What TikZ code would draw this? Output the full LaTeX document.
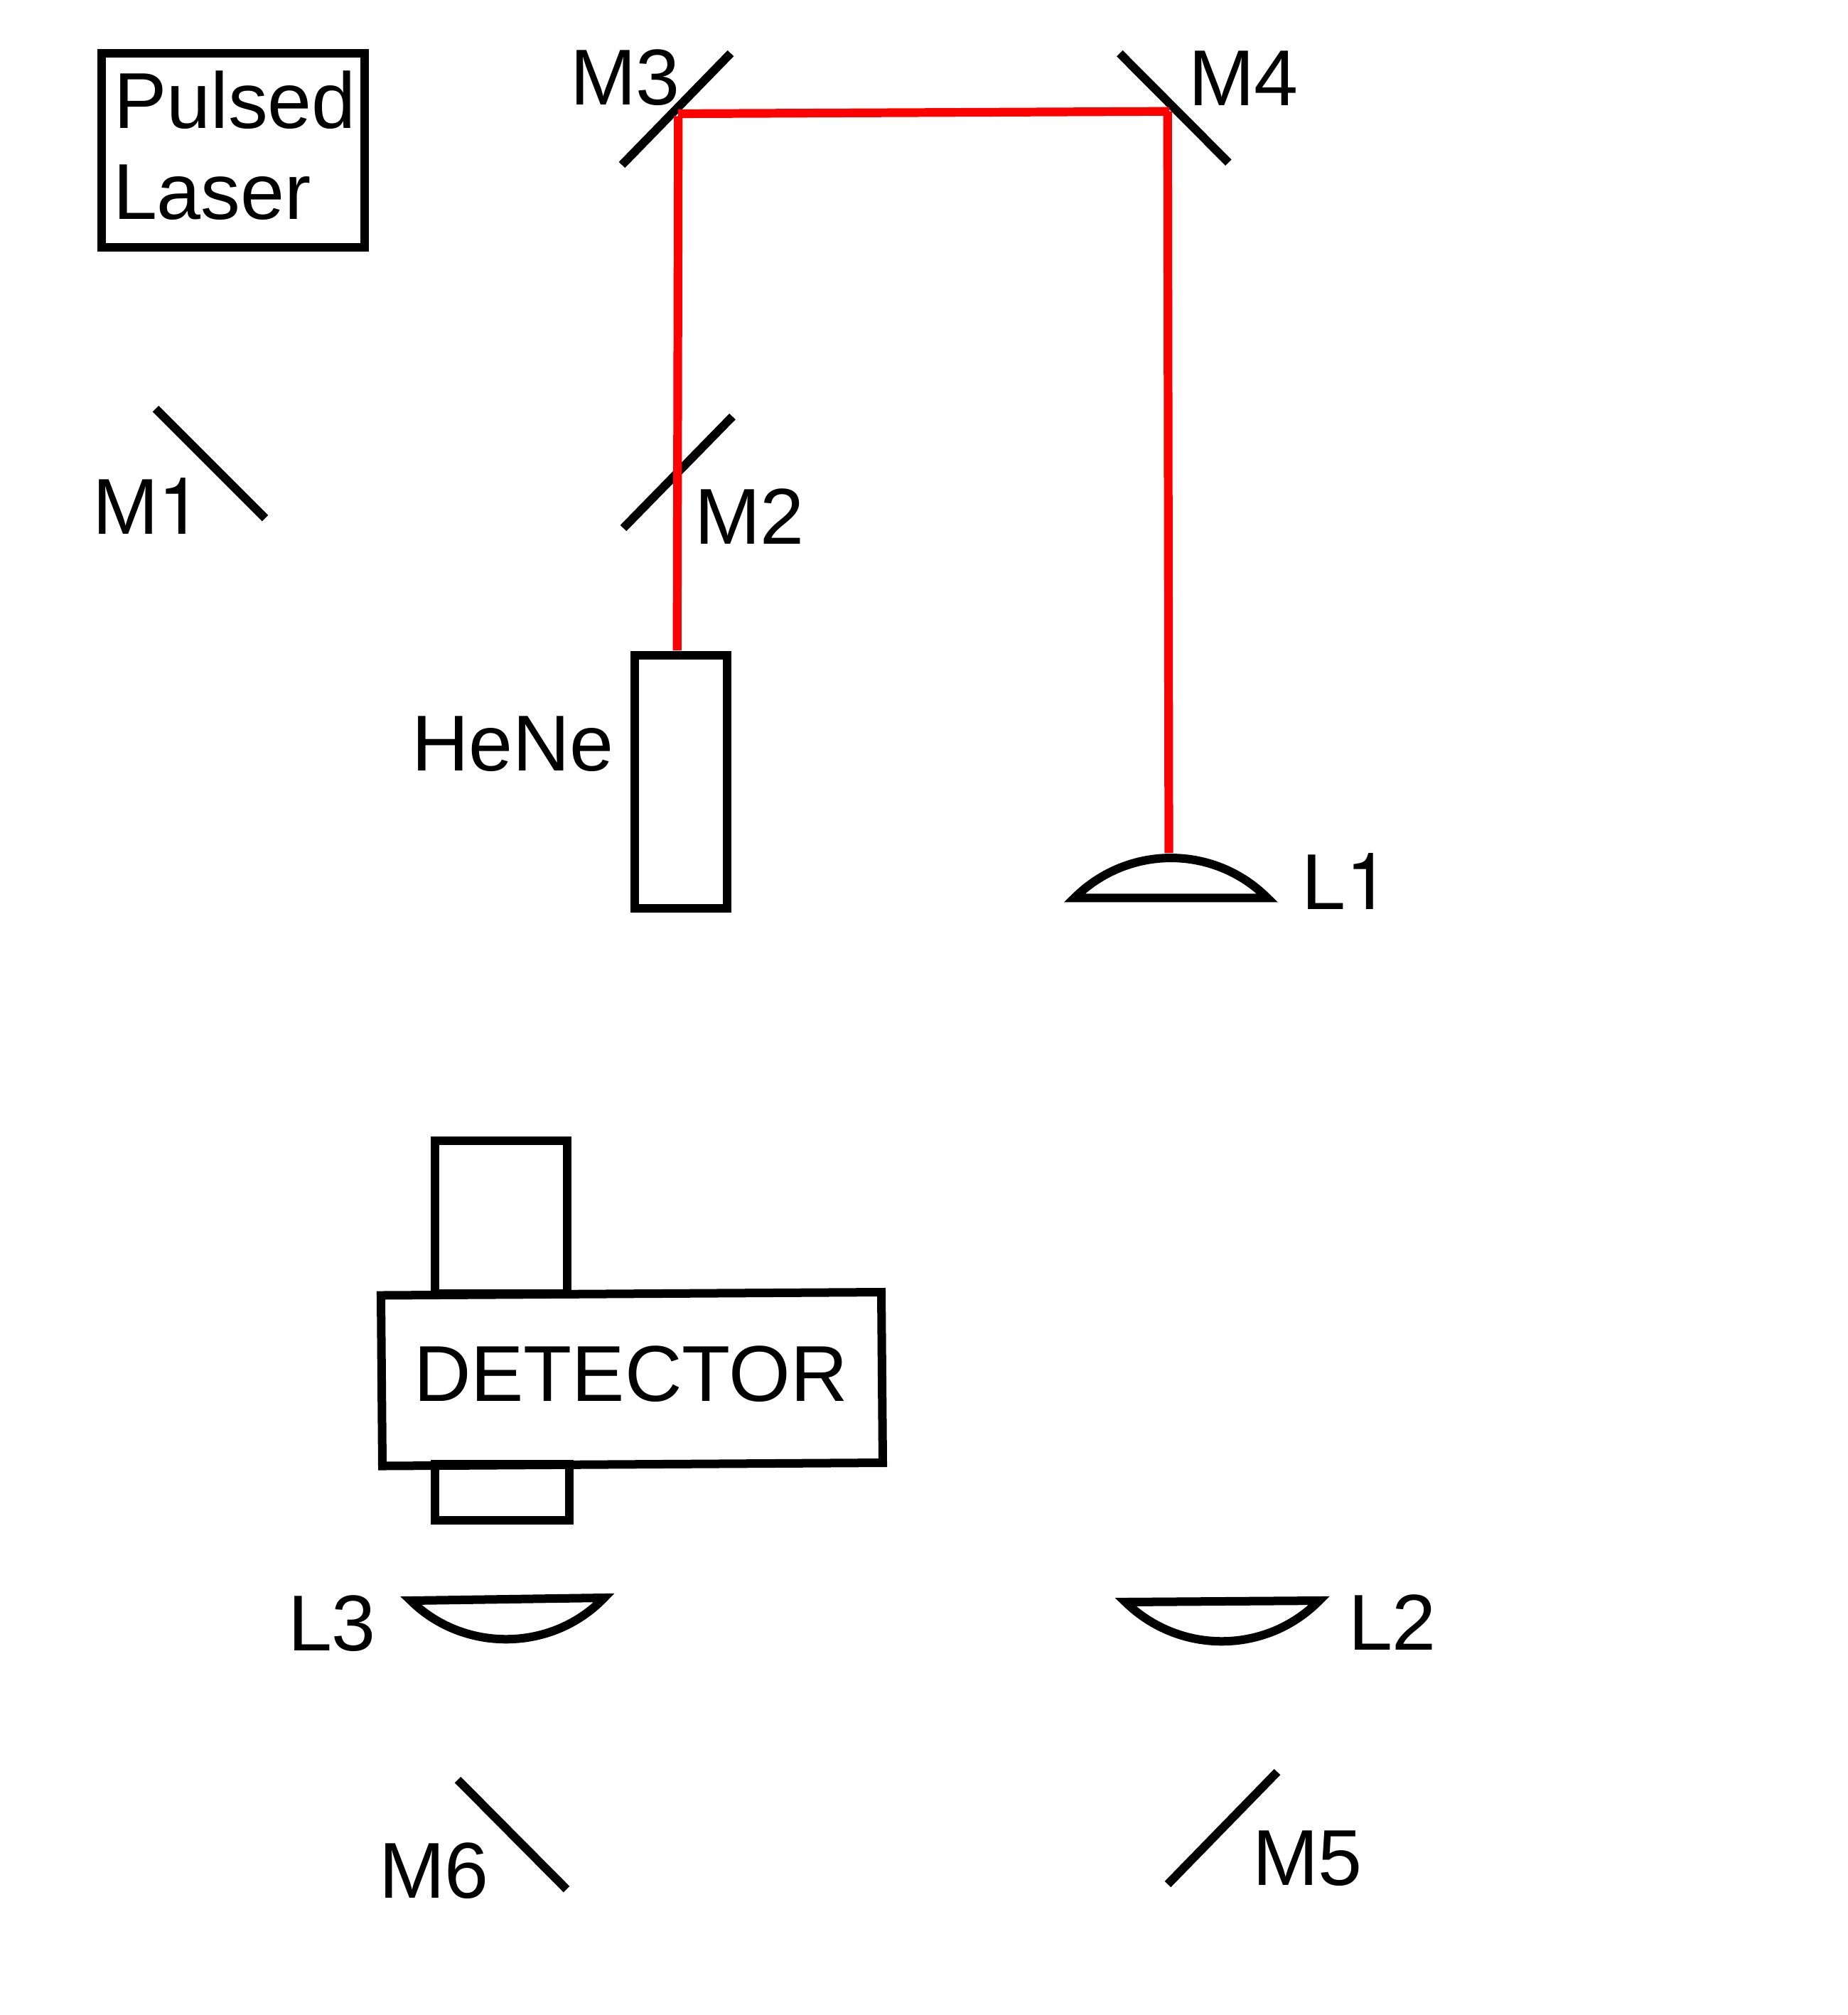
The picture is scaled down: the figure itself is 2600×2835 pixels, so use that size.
\documentclass[tikz,border=0pt]{standalone}
\usepackage{fontspec}
\setmainfont{Liberation Sans}
\newfontfamily\onefont{TeX Gyre Heros}
\tikzset{
  part/.style={draw=black,line width=0.12cm,line join=miter,miter limit=10},
  mirror/.style={draw=black,line width=0.12cm,line cap=butt},
  beam/.style={draw=red,line width=0.122cm,line cap=butt},
  lbl/.style={anchor=base west,inner sep=0pt,outer sep=0pt,text=black,font=\fontsize{31.7}{36}\selectfont}
}
\begin{document}
\begin{tikzpicture}[x=0.01cm,y=-0.01cm]
\useasboundingbox (0,0) rectangle (2600,2835);
% boxes
\draw[part] (143,75) rectangle (513,348);
\draw[part] (893,922) rectangle (1023,1278);
\draw[part] (612,1605) rectangle (798,1820);
\draw[part] (612,2060) rectangle (801,2139);
\draw[part] (536,1822.5) -- (1240,1818) -- (1242,2058) -- (538,2062.5) -- cycle;
% mirrors
\draw[mirror] (219,575) -- (373,729);
\draw[mirror] (1030.5,586) -- (877,743);
\draw[mirror] (1028,75) -- (875,232);
\draw[mirror] (1575.3,75) -- (1728.3,228.7);
\draw[mirror] (1797,2493) -- (1643,2651);
\draw[mirror] (644,2504) -- (797,2658);
% lenses
\draw[part] (1511.7,1263.3) .. controls (1587,1188.3) and (1708,1188.3) .. (1783,1263.3) -- cycle;
\draw[part] (1583.5,2254) .. controls (1659,2328) and (1781,2328) .. (1856,2252) -- cycle;
\draw[part] (578,2252) .. controls (652,2325) and (776,2325) .. (850,2248) -- cycle;
% beam
\coordinate (hene) at (952.7,915);
\coordinate (m3v) at (954.3,163.3);
\coordinate (m3h) at (954,160);
\coordinate (m4h) at (1645,156.7);
\coordinate (m4v) at (1642.7,156.7);
\coordinate (l1) at (1644.5,1200);
\draw[beam] (hene) -- (m3v);
\draw[beam] (m3h) -- (m4h);
\draw[beam] (m4v) -- (l1);
% labels
\node[lbl] (pulsed) at (160,180) {Pulsed};
\node[lbl] (laser) at (159,308) {Laser};
\node[lbl] (M1) at (130,751) {M{\onefont 1}};
\node[lbl] (M2) at (977,765) {M2};
\node[lbl] (M3) at (802,147) {M3};
\node[lbl] (M4) at (1672,148.3) {M4};
\node[lbl] (M5) at (1762,2652) {M5};
\node[lbl] (M6) at (533,2670) {M6};
\node[lbl] (HeNe) at (579,1084) {HeNe};
\node[lbl] (L1) at (1831,1279) {L{\onefont 1}};
\node[lbl] (L2) at (1897,2321) {L2};
\node[lbl] (L3) at (405,2322) {L3};
\node[lbl] (det) at (582,1971) {DETECTOR};
\end{tikzpicture}
\end{document}
